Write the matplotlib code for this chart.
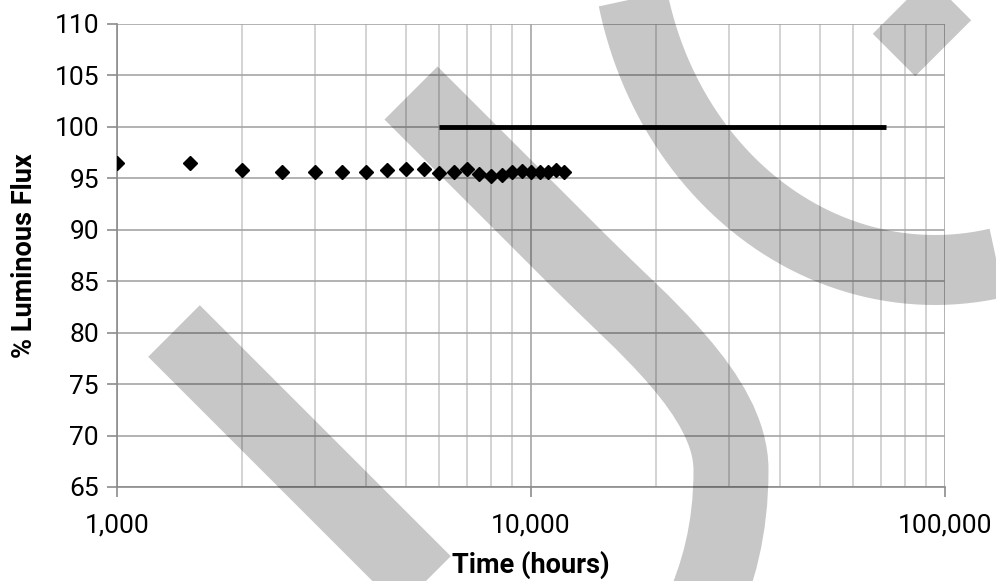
import matplotlib
matplotlib.use('Agg')
import matplotlib.pyplot as plt
from matplotlib.path import Path
from matplotlib.patches import PathPatch
from matplotlib.ticker import FuncFormatter, LogLocator, MultipleLocator, NullFormatter
import numpy as np

plt.rcParams['font.family'] = ['Roboto', 'DejaVu Sans']

# measured lumen maintenance
hours = [1000, 1500, 2000, 2500, 3000, 3500, 4000, 4500, 5000, 5500, 6000, 6500,
         7000, 7500, 8000, 8500, 9000, 9500, 10000, 10500, 11000, 11500, 12000]
flux = [96.5, 96.5, 95.8, 95.6, 95.65, 95.6, 95.6, 95.8, 95.9, 95.9, 95.5, 95.6,
        95.9, 95.4, 95.2, 95.3, 95.65, 95.7, 95.65, 95.65, 95.65, 95.8, 95.65]

# reported / projected line
proj_hours = [6000, 72000]
proj_flux = [100, 100]

W, H = 996, 581
fig = plt.figure(figsize=(W / 100, H / 100), dpi=100)
ax = fig.add_axes([117 / W, 1 - 487 / H, (945 - 117) / W, (487 - 24) / H])

ax.plot(proj_hours, proj_flux, color='black', lw=3.5, solid_capstyle='butt', zorder=3)
ax.plot(hours, flux, linestyle='none', marker='D', ms=7.5, color='black', zorder=4)

ax.set_xscale('log')
ax.set_xlim(1000, 100000)
ax.set_ylim(65, 110)
ax.yaxis.set_major_locator(MultipleLocator(5))
ax.xaxis.set_major_locator(LogLocator(base=10))
ax.xaxis.set_minor_locator(LogLocator(base=10, subs=np.arange(2, 10)))
ax.xaxis.set_major_formatter(FuncFormatter(lambda v, p: '{:,.0f}'.format(v)))
ax.xaxis.set_minor_formatter(NullFormatter())

ax.grid(True, which='major', axis='y', color='#a6a6a6', lw=1.2)
ax.grid(True, which='major', axis='x', color='#a6a6a6', lw=1.2)
ax.grid(True, which='minor', axis='x', color='#cccccc', lw=1.2)
ax.set_axisbelow(True)

for s in ['top', 'right']:
    ax.spines[s].set_visible(False)
for s in ['left', 'bottom']:
    ax.spines[s].set_color('#8c8c8c')
    ax.spines[s].set_linewidth(1.2)

ax.tick_params(axis='both', which='major', direction='out', length=7, width=1.2,
               color='#8c8c8c', labelsize=19)
ax.tick_params(axis='x', which='major', pad=12)
ax.tick_params(axis='y', which='major', pad=6)
ax.tick_params(axis='x', which='minor', length=0)

ax.set_xlabel('Time (hours)', fontsize=19.5, fontweight='bold', labelpad=10)
ax.set_ylabel('% Luminous Flux', fontsize=19.5, fontweight='bold', labelpad=12)


# watermark (drawn in pixel coords of the figure, y down)
def px(x, y):
    return (x / W, 1 - y / H)

wm = dict(color='black', alpha=0.22, solid_capstyle='butt', transform=fig.transFigure, zorder=10)

a, b = px(174, 331), px(480, 637)
fig.add_artist(plt.Line2D([a[0], b[0]], [a[1], b[1]], lw=73 * 0.72, **wm))

a, b = px(894, 55), px(1060, -111)
fig.add_artist(plt.Line2D([a[0], b[0]], [a[1], b[1]], lw=60 * 0.72, **wm))

verts = [px(411, 93), px(580, 262),
         px(640, 322), px(731, 395), px(731, 470),
         px(731, 530), px(718, 575), px(700, 615)]
codes = [Path.MOVETO, Path.LINETO,
         Path.CURVE4, Path.CURVE4, Path.CURVE4,
         Path.CURVE4, Path.CURVE4, Path.CURVE4]
fig.add_artist(PathPatch(Path(verts, codes), facecolor='none', edgecolor='black', alpha=0.22,
                         lw=75 * 0.72, capstyle='butt', joinstyle='round',
                         transform=fig.transFigure, zorder=10))

cx, cy, ra, rb = 935, -80, 310, 350
t = np.radians(np.linspace(194, 30, 300))
arc_x = cx + ra * np.cos(t)
arc_y = cy + rb * np.sin(t)
fig.add_artist(plt.Line2D(arc_x / W, 1 - arc_y / H, lw=70 * 0.72, **wm))

fig.savefig('out.png', dpi=100)
